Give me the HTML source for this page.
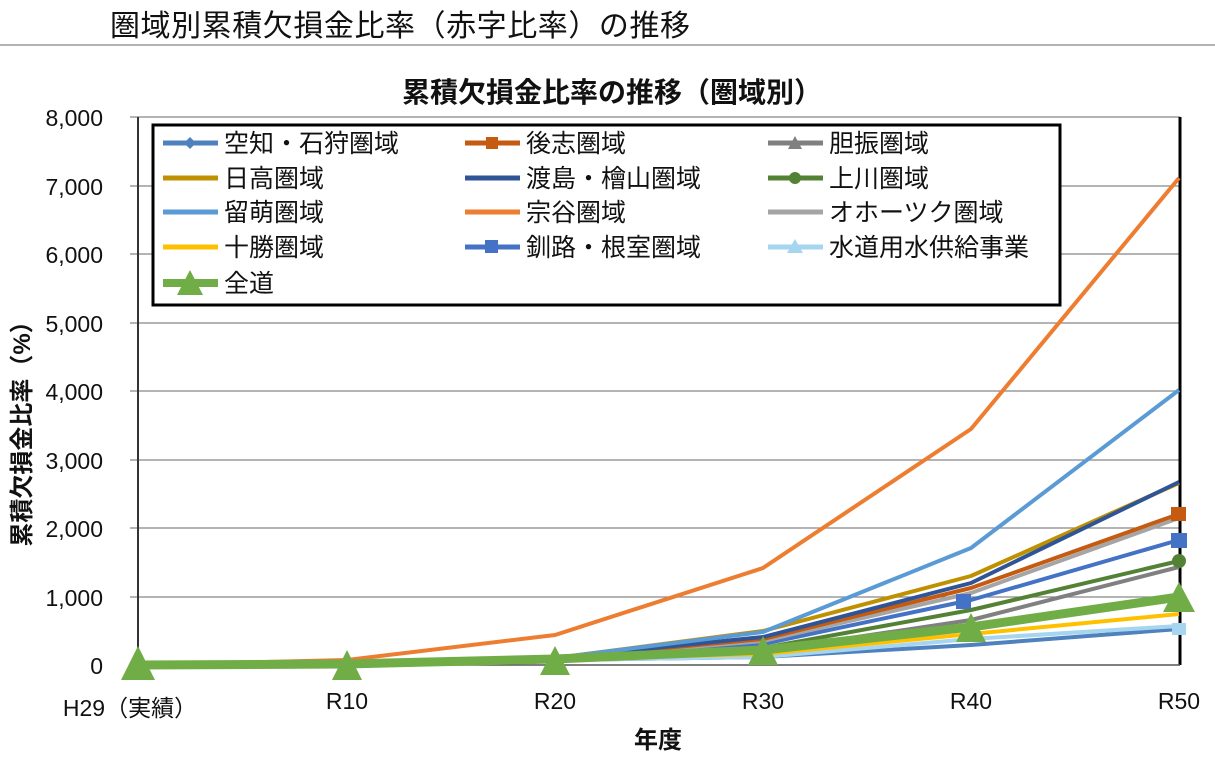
<!DOCTYPE html>
<html><head><meta charset="utf-8"><style>
body{margin:0;background:#fff;width:1215px;height:756px;overflow:hidden;font-family:"Liberation Sans","Noto Sans CJK JP",sans-serif}
</style></head><body>
<svg width="1215" height="756" xmlns="http://www.w3.org/2000/svg" font-family="Liberation Sans, Noto Sans CJK JP, sans-serif">
<text x="110" y="36" font-size="30" fill="#111" textLength="580">圏域別累積欠損金比率（赤字比率）の推移</text>
<line x1="0" y1="45" x2="1215" y2="45" stroke="#999" stroke-width="1.5"/>
<text x="612" y="102" font-size="28" font-weight="bold" text-anchor="middle" fill="#111">累積欠損金比率の推移（圏域別）</text>
<g stroke="#888" stroke-width="1.2">
<line x1="130" y1="117" x2="1180" y2="117"/><line x1="130" y1="186" x2="1180" y2="186"/><line x1="130" y1="254" x2="1180" y2="254"/><line x1="130" y1="323" x2="1180" y2="323"/><line x1="130" y1="391" x2="1180" y2="391"/><line x1="130" y1="460" x2="1180" y2="460"/><line x1="130" y1="528" x2="1180" y2="528"/><line x1="130" y1="597" x2="1180" y2="597"/>
</g>
<line x1="138" y1="117" x2="138" y2="665" stroke="#333" stroke-width="2"/>
<line x1="1180" y1="117" x2="1180" y2="665" stroke="#000" stroke-width="3"/>
<line x1="130" y1="665" x2="1180" y2="665" stroke="#555" stroke-width="1.5"/>
<g font-size="23" fill="#111" text-anchor="end">
<text x="103" y="126">8,000</text><text x="103" y="195">7,000</text><text x="103" y="263">6,000</text><text x="103" y="332">5,000</text><text x="103" y="400">4,000</text><text x="103" y="469">3,000</text><text x="103" y="537">2,000</text><text x="103" y="606">1,000</text><text x="103" y="674">0</text>
</g>
<g font-size="23" fill="#111" text-anchor="middle">
<text x="130" y="716">H29（実績）</text><text x="347" y="709">R10</text><text x="555" y="709">R20</text><text x="763" y="709">R30</text><text x="971" y="709">R40</text><text x="1179" y="709">R50</text>
</g>
<text x="658" y="748" font-size="24" font-weight="bold" text-anchor="middle" fill="#111">年度</text>
<text transform="translate(30,428) rotate(-90)" font-size="24" font-weight="bold" text-anchor="middle" fill="#111">累積欠損金比率（%）</text>
<g fill="none" stroke-width="4" stroke-linejoin="round">
<polyline stroke="#4e81bd" points="138,665 347,663 555,660 763,657 971,645 1179,629"/>
<polyline stroke="#a5d5ef" points="138,665 347,663 555,660 763,657 971,639 1179,626"/>
<polyline stroke="#ffc000" points="138,665 347,663 555,659 763,654 971,634 1179,614"/>
<polyline stroke="#808080" points="138,665 347,663 555,658 763,651 971,620 1179,567"/>
<polyline stroke="#548235" points="138,665 347,663 555,658 763,648 971,610 1179,561"/>
<polyline stroke="#4472c4" points="138,665 347,663 555,658 763,644 971,600 1179,540"/>
<polyline stroke="#a5a5a5" points="138,665 347,663 555,658 763,641 971,593 1179,518"/>
<polyline stroke="#c55a11" points="138,665 347,663 555,658 763,639 971,588 1179,514"/>
<polyline stroke="#bf9000" points="138,665 347,663 555,658 763,631 971,576 1179,483"/>
<polyline stroke="#2f5597" points="138,665 347,663 555,658 763,637 971,583 1179,482"/>
<polyline stroke="#5b9bd5" points="138,665 347,663 555,658 763,632 971,548 1179,390"/>
<polyline stroke="#ed7d31" points="138,665 347,660 555,635 763,568 971,429 1179,178"/>
<polyline stroke="#70ad47" stroke-width="9" points="138,665 347,664 555,659 763,650 971,627 1179,597"/>
</g>
<g fill="#70ad47">
<polygon points="138,646 121,680 155,680"/><polygon points="347,650 332,680 362,680"/><polygon points="555,646 540,675 570,675"/><polygon points="763,636 748,665 778,665"/><polygon points="971,613 956,642 986,642"/><polygon points="1179,582 1163,612 1195,612"/>
</g>
<rect x="1172" y="623" width="14" height="12" fill="#a5d5ef"/>
<rect x="1171" y="533" width="16" height="15" fill="#4472c4"/><rect x="956" y="594" width="15" height="15" fill="#4472c4"/>
<rect x="1171" y="507" width="15" height="14" fill="#c55a11"/>
<circle cx="1179" cy="561" r="7" fill="#548235"/>
<rect x="153" y="125" width="907" height="180" fill="#fff" stroke="#000" stroke-width="3"/>
<g font-size="25" fill="#111">
<g stroke-width="5"><line x1="163" y1="143" x2="218" y2="143" stroke="#4e81bd"/><line x1="465" y1="143" x2="520" y2="143" stroke="#c55a11"/><line x1="768" y1="143" x2="823" y2="143" stroke="#808080"/>
<line x1="163" y1="178" x2="218" y2="178" stroke="#bf9000"/><line x1="465" y1="178" x2="520" y2="178" stroke="#2f5597"/><line x1="768" y1="178" x2="823" y2="178" stroke="#548235"/>
<line x1="163" y1="212" x2="218" y2="212" stroke="#5b9bd5"/><line x1="465" y1="212" x2="520" y2="212" stroke="#ed7d31"/><line x1="768" y1="212" x2="823" y2="212" stroke="#a5a5a5"/>
<line x1="163" y1="247" x2="218" y2="247" stroke="#ffc000"/><line x1="465" y1="247" x2="520" y2="247" stroke="#4472c4"/><line x1="768" y1="247" x2="823" y2="247" stroke="#a5d5ef"/>
<line x1="163" y1="283" x2="218" y2="283" stroke="#70ad47" stroke-width="8"/></g>
<polygon points="190,137 196,143 190,149 184,143" fill="#4e81bd"/><rect x="486" y="137" width="12" height="12" fill="#c55a11"/><polygon points="795,136 802,149 788,149" fill="#808080"/>
<circle cx="795" cy="178" r="6" fill="#548235"/><rect x="485" y="240" width="13" height="13" fill="#4472c4"/><polygon points="795,239 803,253 787,253" fill="#a5d5ef"/><polygon points="190,270 177,295 203,295" fill="#70ad47"/>
<text x="224" y="152">空知・石狩圏域</text><text x="526" y="152">後志圏域</text><text x="829" y="152">胆振圏域</text>
<text x="224" y="187">日高圏域</text><text x="526" y="187">渡島・檜山圏域</text><text x="829" y="187">上川圏域</text>
<text x="224" y="221">留萌圏域</text><text x="526" y="221">宗谷圏域</text><text x="829" y="221">オホーツク圏域</text>
<text x="224" y="256">十勝圏域</text><text x="526" y="256">釧路・根室圏域</text><text x="829" y="256">水道用水供給事業</text>
<text x="224" y="292">全道</text>
</g>
</svg>
</body></html>
